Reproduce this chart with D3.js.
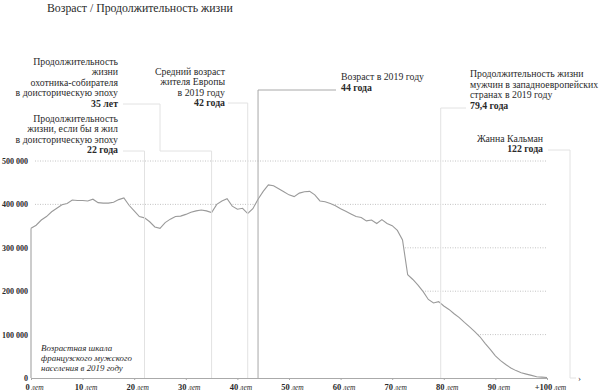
<!DOCTYPE html>
<html>
<head>
<meta charset="utf-8">
<script src="https://cdn.jsdelivr.net/npm/d3@7"></script>
<style>
  body { margin: 0; background: #fff; }
  .note { font-size: 9.8px; fill: #2a2a2a; }
  .note .num { font-weight: bold; }
  .axis text { fill: #2a2a2a; font-family: "Liberation Serif", serif; }
</style>
</head>
<body>
<div id="graphic"></div>
<script>
// population of french men by age, 2019
var ages = d3.range(0, 101);
var population = [
  345000, 352000, 364000, 372000, 383000, 391000, 399000, 402000, 410000, 409000,
  409000, 408000, 412000, 404000, 403000, 403000, 405000, 411000, 415000, 398000,
  385000, 372000, 369000, 360000, 348000, 345000, 358000, 366000, 372000, 373000,
  377000, 382000, 385000, 387000, 385000, 381000, 400000, 408000, 413000, 396000,
  389000, 391000, 379000, 390000, 412000, 430000, 445000, 443000, 436000, 429000,
  422000, 418000, 426000, 429000, 430000, 422000, 408000, 406000, 402000, 397000,
  390000, 384000, 378000, 372000, 370000, 362000, 364000, 356000, 365000, 356000,
  351000, 340000, 318000, 238000, 227000, 214000, 199000, 181000, 173000, 176000,
  166000, 158000, 148000, 139000, 128000, 118000, 107000, 95000, 80000, 66000,
  51000, 40000, 31000, 23000, 17000, 12000, 9000, 6000, 3000, 2000,
  1000
];
var xTicks = [0, 10, 20, 30, 40, 50, 60, 70, 80, 90, 100];
var yTicks = [0, 100000, 200000, 300000, 400000, 500000];
var gridValues = [100000, 200000, 300000, 400000, 500000];

// annotations: age, label lines, bold value
var notes = [
  { age: 35, lines: ["Продолжительность", "жизни", "охотника-собирателя", "в доисторическую эпоху"], value: "35 лет" },
  { age: 22, lines: ["Продолжительность", "жизни, если бы я жил", "в доисторическую эпоху"], value: "22 года" },
  { age: 42, lines: ["Средний возраст", "жителя Европы", "в 2019 году"], value: "42 года" },
  { age: 44, lines: ["Возраст в 2019 году"], value: "44 года" },
  { age: 79.4, lines: ["Продолжительность жизни", "мужчин в западноевропейских", "странах в 2019 году"], value: "79,4 года" },
  { age: 122, lines: ["Жанна Кальман"], value: "122 года" }
];

var w = 600, h = 391;
var svg = d3.select("#graphic").append("svg")
    .attr("width", w).attr("height", h)
    .attr("font-family", "Liberation Serif, serif");

var x = d3.scaleLinear().domain([0, 100]).range([31, 547]);
var y = d3.scaleLinear().domain([0, 500000]).range([378, 161]);

svg.append("text")
   .attr("x", 47).attr("y", 12)
   .style("font-size", "11.8px").style("fill", "#2a2a2a")
   .text("Возраст / Продолжительность жизни");

// dotted grid
svg.selectAll(".grid")
   .data(gridValues).enter()
   .append("line")
   .attr("x1", 35).attr("x2", x(100))
   .attr("y1", function(d){ return y(d); })
   .attr("y2", function(d){ return y(d); })
   .attr("stroke", "#b5b5b5")
   .attr("stroke-dasharray", "1,1.5")
   .attr("stroke-width", 0.8);

var data = ages.map(function(a, i){ return [a, population[i]]; });

// white area hides the grid under the curve
svg.append("path")
   .datum(data)
   .attr("fill", "#fff")
   .attr("d", d3.area()
       .x(function(d){ return x(d[0]); })
       .y0(y(0))
       .y1(function(d){ return y(d[1]); }));

svg.append("line")
   .attr("x1", x(0)).attr("x2", x(0))
   .attr("y1", y(0)).attr("y2", y(population[0]))
   .attr("stroke", "#999").attr("stroke-width", 1);

svg.append("path")
   .datum(data)
   .attr("fill", "none")
   .attr("stroke", "#9a9a9a")
   .attr("stroke-width", 1.1)
   .attr("d", d3.line()
       .x(function(d){ return x(d[0]); })
       .y(function(d){ return y(d[1]); }));

// x axis
var xAxis = svg.append("g")
   .attr("class", "axis")
   .attr("transform", "translate(0," + y(0) + ")")
   .call(d3.axisBottom(x).tickValues(xTicks).tickSize(2).tickPadding(3));
xAxis.select(".domain").attr("stroke", "#aaa");
xAxis.selectAll(".tick line").attr("stroke", "#aaa");
xAxis.selectAll(".tick text")
   .attr("dx", 3)
   .each(function(d){
       var t = d3.select(this).text("");
       t.append("tspan").style("font-weight", "bold").style("font-size", "8.5px")
        .text((d === 100 ? "+" : "") + d);
       t.append("tspan").style("font-style", "italic").style("font-size", "7.5px")
        .text(" лет");
   });

// y axis
var yAxis = svg.append("g")
   .attr("class", "axis")
   .attr("transform", "translate(28,0)")
   .call(d3.axisLeft(y).tickValues(yTicks).tickSize(0).tickPadding(0)
       .tickFormat(function(d){ return d3.format(",")(d).replace(/,/g, " "); }));
yAxis.select(".domain").remove();
yAxis.selectAll(".tick text")
   .style("font-weight", "bold").style("font-size", "8px");

// annotation leaders
var leaderColor = "#e2e2e2";
function leader(points, color){
    svg.append("path")
       .attr("fill", "none")
       .attr("stroke", color || leaderColor)
       .attr("stroke-width", 1)
       .attr("d", d3.line()(points));
}
leader([[123, 104], [160, 104], [160, 151], [x(35), 151], [x(35), y(0)]]);
leader([[123, 151], [x(22), 151], [x(22), y(0)]]);
leader([[228, 103], [x(42), 103], [x(42), y(0)]]);
leader([[336, 90], [x(44), 90], [x(44), y(0)]], "#a8a8a8");
leader([[466, 108], [x(79.4), 108], [x(79.4), y(0)]]);
leader([[548, 150], [570, 150], [570, y(0)], [576, y(0)]]);
svg.append("text")
   .attr("x", 578).attr("y", y(0) + 3)
   .style("font-size", "9px").style("fill", "#333")
   .text("›");

// annotation texts
function note(n, xPos, yTop, anchor, lh){
    var t = svg.append("text").attr("class", "note")
        .attr("text-anchor", anchor);
    n.lines.concat([n.value]).forEach(function(s, i){
        t.append("tspan")
         .attr("x", xPos).attr("y", yTop + i * lh)
         .attr("class", i === n.lines.length ? "num" : null)
         .text(s);
    });
}
note(notes[0], 118, 65, "end", 10.4);
note(notes[1], 118, 122, "end", 10.4);
note(notes[2], 225, 75, "end", 10.4);
note(notes[3], 341, 80, "start", 11.3);
note(notes[4], 470, 77, "start", 10.6);
note(notes[5], 543, 142, "end", 10.4);

// italic caption
var cap = svg.append("text").attr("class", "note")
   .style("font-style", "italic").style("font-size", "8.9px");
["Возрастная шкала", "французского мужского", "населения в 2019 году"].forEach(function(s, i){
    cap.append("tspan").attr("x", 41).attr("y", 351 + i * 10.2).text(s);
});
</script>
</body>
</html>
